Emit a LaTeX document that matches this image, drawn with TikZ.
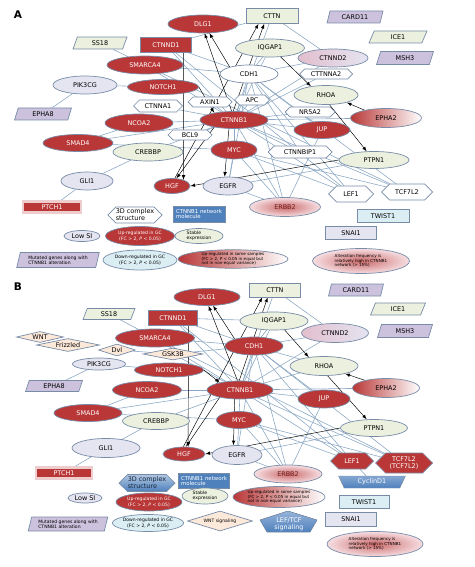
\documentclass[tikz,border=0pt]{standalone}
\usepackage{fontspec}
\setmainfont{DejaVu Sans}
\usetikzlibrary{shapes.geometric, shapes.symbols, backgrounds}
\definecolor{gcred}{RGB}{185,55,55}
\definecolor{stabgreen}{RGB}{235,241,222}
\definecolor{lowlav}{RGB}{229,228,241}
\definecolor{mutpurple}{RGB}{204,194,222}
\definecolor{downblue}{RGB}{219,238,244}
\definecolor{netblue}{RGB}{79,129,189}
\definecolor{wntpeach}{RGB}{253,233,217}
\definecolor{bord}{RGB}{120,140,168}
\definecolor{linkblue}{RGB}{140,168,196}
\definecolor{pinkish}{RGB}{246,222,226}
\definecolor{rosy}{RGB}{226,190,206}
\newcommand{\gfont}{\fontsize{5.5}{6}\selectfont}
\newcommand{\lfont}{\fontsize{3.9}{4.4}\selectfont}
\newcommand{\sfont}{\fontsize{3.5}{3.9}\selectfont}
\tikzset{
	wh/.style 2 args={minimum width=#1*0.03cm, minimum height=#2*0.03cm},
	gene/.style={ellipse, draw=bord, line width=0.6pt, inner sep=0pt, font=\gfont},
	upgc/.style={gene, fill=gcred, text=white},
	stable/.style={gene, fill=stabgreen},
	lowsi/.style={gene, fill=lowlav},
	downgc/.style={gene, fill=downblue},
	somegc/.style={gene, left color=gcred, right color=white},
	altfreq/.style={gene, inner color=gcred!75, outer color=pinkish},
	partner/.style={gene, left color=rosy, right color=lowlav},
	% parallelograms for mutated genes
	mutated/.style={trapezium, trapezium left angle=72, trapezium right angle=108, trapezium stretches=true, draw=bord, line width=0.6pt, inner sep=0pt, fill=mutpurple, font=\gfont},
	complex/.style={signal, signal to=east and west, draw=bord, line width=0.6pt, fill=white, inner sep=0pt, font=\gfont},
	netmol/.style={rectangle, draw=bord, line width=0.6pt, inner sep=0pt, font=\gfont},
	wntpath/.style={diamond, aspect=4, draw=bord, line width=0.6pt, fill=wntpeach, inner sep=0pt, font=\gfont},
	link/.style={draw=linkblue, line width=0.5pt},
	panel/.style={font=\bfseries\fontsize{9}{9}\selectfont},
}
\begin{document}
\begin{tikzpicture}[x=0.03cm, y=-0.03cm]
	\useasboundingbox (0,0) rectangle (474,567);
	
	%%% panel A
	\node (labA) [panel] at (18,15) {A};
	\node (dlg1A) [upgc, wh={70}{18}] at (203,24) {DLG1};
	\node (ss18A) [mutated, fill=stabgreen, wh={54}{12}] at (100,43) {SS18};
	\node (ctnnd1A) [netmol, fill=gcred, text=white, wh={51}{15}] at (166,45) {CTNND1};
	\node (smarca4A) [upgc, wh={76}{18}] at (145,65) {SMARCA4};
	\node (pik3cgA) [lowsi, wh={64}{18}] at (85,85) {PIK3CG};
	\node (notch1A) [upgc, wh={71}{15}] at (163,87) {NOTCH1};
	\node (ctnna1A) [complex, wh={49}{12}] at (158,106) {CTNNA1};
	\node (epha8A) [mutated, wh={57}{12}] at (43,114) {EPHA8};
	\node (ncoa2A) [upgc, wh={68}{18}] at (139,123) {NCOA2};
	\node (smad4A) [upgc, wh={70}{17}] at (78,143) {SMAD4};
	\node (axin1A) [complex, wh={44}{10}] at (210,102) {AXIN1};
	\node (bcl9A) [complex, wh={44}{10}] at (190,135) {BCL9};
	\node (cttnA) [netmol, fill=stabgreen, wh={52}{15}] at (272,16) {CTTN};
	\node (card11A) [mutated, wh={56}{12}] at (355,17) {CARD11};
	\node (ice1A) [mutated, fill=stabgreen, wh={58}{12}] at (398,37) {ICE1};
	\node (iqgap1A) [stable, wh={69}{18}] at (270,48) {IQGAP1};
	\node (ctnnd2A) [partner, wh={70}{18}] at (333,58) {CTNND2};
	\node (msh3A) [mutated, wh={57}{13}] at (405,58) {MSH3};
	\node (cdh1A) [gene, fill=white, wh={58}{18}] at (249,74) {CDH1};
	\node (ctnna2A) [complex, wh={53}{10}] at (326,74) {CTTNNA2};
	\node (apcA) [complex, wh={35}{10}] at (252,100) {APC};
	\node (rhoaA) [stable, wh={64}{19}] at (326,95) {RHOA};
	\node (nr5a2A) [complex, wh={50}{10}] at (310,112) {NR5A2};
	\node (ctnnb1A) [upgc, wh={68}{17}] at (234,120) {CTNNB1};
	\node (epha2A) [somegc, wh={71}{19}] at (386,118) {EPHA2};
	\node (jupA) [upgc, wh={56}{17}] at (322,130) {JUP};
	\node (mycA) [upgc, wh={46}{18}] at (234,150) {MYC};
	\node (crebbpA) [stable, wh={70}{18}] at (148,152) {CREBBP};
	\node (ctnnbip1A) [complex, wh={64}{12}] at (300,152) {CTNNBIP1};
	\node (ptpn1A) [stable, wh={70}{17}] at (374,160) {PTPN1};
	\node (gli1A) [lowsi, wh={52}{18}] at (87,181) {GLI1};
	\node (hgfA) [upgc, wh={36}{15}] at (172,186) {HGF};
	\node (egfrA) [lowsi, wh={50}{18}] at (228,186) {EGFR};
	\node (erbb2A) [altfreq, text=gcred!60!black, wh={71}{19}] at (285,207) {ERBB2};
	\node (lef1A) [complex, wh={45}{16}] at (351,194) {LEF1};
	\node (tcf7l2A) [complex, wh={51}{16}] at (407,192) {TCF7L2};
	\node (twist1A) [netmol, fill=downblue, wh={52}{13}] at (383,216) {TWIST1};
	\node (snai1A) [netmol, fill=lowlav, wh={51}{13}] at (351,233) {SNAI1};
	\node (ptch1A) [netmol, fill=gcred, text=white, draw=gcred!25, line width=2.5pt, wh={58}{11}] at (52,207) {PTCH1};
	% legend A
	\node (lg3dA) [complex, align=left, wh={47}{16}] at (135,215) {3D complex\\structure};
	\node (lgnetA) [netmol, fill=netblue, text=white, align=left, font=\fontsize{4.6}{5}\selectfont, wh={52}{16}] at (199,214) {CTNNB1 network\\molecule};
	\node (lglowA) [lowsi, wh={36}{11}] at (82,236) {Low SI};
	\node (lgupA) [upgc, align=center, font=\lfont, wh={69}{19}] at (140,236) {Up-regulated in GC\\(FC > 2, \textit{P} < 0.05)};
	\node (lgstabA) [stable, align=left, font=\lfont, wh={48}{15}] at (199,236) {Stable\\expression};
	\node (lgmutA) [mutated, align=left, font=\lfont, wh={83}{15}] at (58,260) {Mutated genes along with\\CTNNB1 alteration};
	\node (lgdownA) [downgc, align=center, font=\lfont, wh={74}{20}] at (140,260) {Down-regulated in GC\\(FC > 2, \textit{P} < 0.05)};
	\node (lgsomeA) [somegc, align=left, font=\sfont, wh={110}{18}] at (233,259) {Up-regulated in some samples\\(FC > 2, \textit{P} < 0.05 in equal but\\not in non-equal variance)};
	\node (lgaltA) [altfreq, align=left, font=\sfont, wh={97}{25}] at (361,261) {Alteration frequency is\\relatively high in CTNNB1\\network (> 15\%)};
	
	\begin{scope}[on background layer]
		\foreach \a/\b in {ss18A/smarca4A, pik3cgA/epha8A, pik3cgA/notch1A, smad4A/ncoa2A, crebbpA/gli1A, gli1A/ptch1A,
			ctnnd1A/cttnA, cttnA/ctnnd2A, cttnA/ctnnb1A, ctnnb1A/smarca4A, ctnnb1A/ncoa2A, ctnnb1A/smad4A,
			ctnnb1A/crebbpA, ctnnb1A/ctnnd1A, ctnnb1A/ctnna1A, ctnnb1A/axin1A, ctnnb1A/bcl9A, ctnnb1A/apcA,
			ctnnb1A/cdh1A, ctnnb1A/iqgap1A, ctnnb1A/ctnnd2A, ctnnb1A/ctnna2A, ctnnb1A/nr5a2A, ctnnb1A/jupA,
			ctnnb1A/epha2A, ctnnb1A/ctnnbip1A, ctnnb1A/lef1A, ctnnb1A/tcf7l2A, ctnnb1A/erbb2A, ctnnb1A/mycA,
			cdh1A/ctnnd1A, cdh1A/smarca4A, cdh1A/iqgap1A, cdh1A/ctnnd2A, cdh1A/egfrA, cdh1A/erbb2A,
			cdh1A/lef1A, cdh1A/tcf7l2A, cdh1A/ctnnbip1A, cdh1A/jupA, mycA/erbb2A, mycA/lef1A, mycA/egfrA,
			mycA/smad4A, mycA/tcf7l2A, jupA/erbb2A, egfrA/erbb2A, egfrA/ptpn1A, ctnnd1A/lef1A, smarca4A/tcf7l2A}
			\draw [link] (\a) -- (\b);
	\end{scope}
	\begin{scope}[on background layer, black, ->, >=latex, line width=0.5pt]
		\draw (ctnnd1A.-24) -- (hgfA.28);
		\draw (ctnnb1A.200) -- (hgfA.60);
		\draw (ctnnb1A.105) -- (dlg1A.-80);
		\draw (cdh1A.160) -- (dlg1A.-55);
		\draw (hgfA.70) -- (cttnA.-150);
		\draw (ctnnb1A.95) -- (cttnA.-135);
		\draw (notch1A.east) -- (ctnnb1A.160);
		\draw (ctnnb1A.-120) -- (egfrA.110);
		\draw (ptpn1A.west) -- (hgfA.east);
		\draw (iqgap1A.-40) -- (rhoaA.150);
		\draw (epha2A.160) -- (rhoaA.-20);
		\draw (rhoaA.-70) -- (ptpn1A.130);
	\end{scope}
	
	%%% panel B
	\node (labB) [panel] at (18,287) {B};
	\node (dlg1B) [upgc, wh={66}{17}] at (207,297) {DLG1};
	\node (ss18B) [mutated, fill=stabgreen, wh={52}{11}] at (109,314) {SS18};
	\node (ctnnd1B) [netmol, fill=gcred, text=white, wh={49}{15}] at (173,318) {CTNND1};
	\node (wntB) [wntpath, wh={47}{11}] at (40,337) {WNT};
	\node (frizB) [wntpath, wh={63}{13}] at (68,345) {Frizzled};
	\node (smarca4B) [upgc, wh={79}{18}] at (155,338) {SMARCA4};
	\node (dvlB) [wntpath, wh={37}{12}] at (117,350) {Dvl};
	\node (gsk3bB) [wntpath, wh={60}{12}] at (173,354) {GSK3B};
	\node (pik3cgB) [lowsi, wh={53}{12}] at (99,364) {PIK3CG};
	\node (notch1B) [upgc, wh={69}{14}] at (169,370) {NOTCH1};
	\node (epha8B) [mutated, wh={57}{11}] at (54,386) {EPHA8};
	\node (ncoa2B) [upgc, wh={69}{17}] at (147,390) {NCOA2};
	\node (smad4B) [upgc, wh={68}{17}] at (88,413) {SMAD4};
	\node (crebbpB) [stable, wh={67}{17}] at (156,421) {CREBBP};
	\node (cttnB) [netmol, fill=stabgreen, wh={51}{14}] at (275,290) {CTTN};
	\node (card11B) [mutated, wh={55}{12}] at (356,290) {CARD11};
	\node (ice1B) [mutated, fill=stabgreen, wh={55}{12}] at (398,309) {ICE1};
	\node (iqgap1B) [stable, wh={68}{18}] at (274,321) {IQGAP1};
	\node (ctnnd2B) [partner, wh={67}{19}] at (335,333) {CTNND2};
	\node (msh3B) [mutated, wh={55}{13}] at (405,331) {MSH3};
	\node (cdh1B) [upgc, wh={58}{18}] at (254,346) {CDH1};
	\node (rhoaB) [stable, wh={68}{19}] at (324,366) {RHOA};
	\node (ctnnb1B) [upgc, wh={66}{18}] at (240,390) {CTNNB1};
	\node (epha2B) [somegc, wh={67}{19}] at (386,388) {EPHA2};
	\node (jupB) [upgc, wh={52}{18}] at (324,399) {JUP};
	\node (mycB) [upgc, wh={45}{17}] at (239,420) {MYC};
	\node (ptpn1B) [stable, wh={67}{17}] at (374,428) {PTPN1};
	\node (gli1B) [lowsi, wh={68}{19}] at (106,448) {GLI1};
	\node (hgfB) [upgc, wh={42}{14}] at (184,454) {HGF};
	\node (egfrB) [lowsi, wh={50}{19}] at (237,455) {EGFR};
	\node (erbb2B) [altfreq, text=gcred!60!black, wh={68}{18}] at (288,474) {ERBB2};
	\node (lef1B) [complex, fill=gcred, text=white, wh={43}{16}] at (352,461) {LEF1};
	\node (tcf7l2B) [complex, fill=gcred, text=white, align=center, wh={57}{20}] at (404,463) {TCF7L2\\(TCF7L2)};
	\node (cyclinB) [trapezium, trapezium left angle=65, trapezium right angle=65, shape border rotate=180, trapezium stretches=true, draw=bord, top color=netblue!70, bottom color=netblue, text=white, inner sep=0pt, font=\gfont, wh={67}{12}] at (372,482) {CyclinD1};
	\node (twist1B) [netmol, fill=downblue, wh={50}{13}] at (364,502) {TWIST1};
	\node (snai1B) [netmol, fill=lowlav, wh={51}{14}] at (351,519) {SNAI1};
	\node (ptch1B) [netmol, fill=gcred, text=white, draw=gcred!25, line width=2.5pt, wh={56}{11}] at (64,473) {PTCH1};
	% legend B
	\node (lg3dB) [complex, top color=netblue!45, bottom color=netblue, text=netblue!30!black, align=left, wh={56}{17}] at (147,483) {3D complex\\structure};
	\node (lgnetB) [netmol, fill=netblue, text=white, align=left, font=\fontsize{4.6}{5}\selectfont, wh={51}{15}] at (204,481) {CTNNB1 network\\molecule};
	\node (lglowB) [lowsi, wh={34}{10}] at (85,498) {Low SI};
	\node (lgupB) [upgc, align=center, font=\lfont, wh={66}{18}] at (149,502) {Up-regulated in GC\\(FC > 2, \textit{P} < 0.05)};
	\node (lgstabB) [stable, align=left, font=\lfont, wh={46}{16}] at (205,496) {Stable\\expression};
	\node (lgsomeB) [somegc, align=left, font=\sfont, wh={92}{21}] at (279,497) {Up-regulated in some samples\\(FC > 2, \textit{P} < 0.05 in equal but\\not in non-equal variance)};
	\node (lgmutB) [mutated, align=left, font=\lfont, wh={80}{14}] at (68,524) {Mutated genes along with\\CTNNB1 alteration};
	\node (lgdownB) [downgc, align=center, font=\lfont, wh={70}{17}] at (148,523) {Down-regulated in GC\\(FC > 2, \textit{P} < 0.05)};
	\node (lgwntB) [wntpath, aspect=3.2, font=\lfont, wh={65}{20}] at (220,521) {WNT signaling};
	\node (lgsigB) [text=white, align=center, font=\gfont] at (289,524) {LEF/TCF\\signaling};
	\node (lgaltB) [altfreq, align=left, font=\sfont, wh={96}{25}] at (375,544) {Alteration frequency is\\relatively high in CTNNB1\\network (> 15\%)};
	
	\begin{scope}[on background layer]
		\filldraw [draw=bord, top color=netblue!60, bottom color=netblue] (lgsigB) ++(-29,-4) -- ++(28,-9) -- ++(29,9) -- ++(-7,12) -- ++(-43,0) -- cycle;
		\foreach \a/\b in {ss18B/smarca4B, pik3cgB/epha8B, pik3cgB/notch1B, smad4B/ncoa2B, crebbpB/gli1B, gli1B/ptch1B,
			ctnnd1B/iqgap1B, cttnB/ctnnd2B, cttnB/ctnnb1B, dvlB/gsk3bB, gsk3bB/ctnnb1B, gsk3bB/cdh1B,
			ctnnb1B/smarca4B, ctnnb1B/ncoa2B, ctnnb1B/smad4B, ctnnb1B/crebbpB, ctnnb1B/ctnnd1B, ctnnb1B/cdh1B,
			ctnnb1B/iqgap1B, ctnnb1B/ctnnd2B, ctnnb1B/jupB, ctnnb1B/epha2B, ctnnb1B/lef1B, ctnnb1B/tcf7l2B,
			ctnnb1B/erbb2B, ctnnb1B/mycB, ctnnb1B/rhoaB, cdh1B/ctnnd1B, cdh1B/smarca4B, cdh1B/iqgap1B,
			cdh1B/ctnnd2B, cdh1B/egfrB, cdh1B/erbb2B, cdh1B/lef1B, cdh1B/tcf7l2B, cdh1B/jupB, cdh1B/rhoaB,
			mycB/erbb2B, mycB/lef1B, mycB/egfrB, mycB/smad4B, mycB/tcf7l2B, jupB/erbb2B, egfrB/erbb2B,
			egfrB/ptpn1B, lef1B/cyclinB, ctnnd1B/lef1B, smarca4B/tcf7l2B}
			\draw [link] (\a) -- (\b);
	\end{scope}
	\begin{scope}[on background layer, black, ->, >=latex, line width=0.5pt]
		\draw (ctnnd1B.-27) -- (hgfB.60);
		\draw (ctnnb1B.200) -- (hgfB.75);
		\draw (ctnnb1B.105) -- (dlg1B.-80);
		\draw (cdh1B.160) -- (dlg1B.-55);
		\draw (hgfB.95) -- (cttnB.-150);
		\draw (ctnnb1B.95) -- (cttnB.-135);
		\draw (notch1B.east) -- (ctnnb1B.160);
		\draw (ctnnb1B.-120) -- (egfrB.110);
		\draw (ptpn1B.west) -- (hgfB.east);
		\draw (iqgap1B.-40) -- (rhoaB.150);
		\draw (epha2B.160) -- (rhoaB.-20);
		\draw (rhoaB.-70) -- (ptpn1B.130);
	\end{scope}
\end{tikzpicture}
\end{document}
